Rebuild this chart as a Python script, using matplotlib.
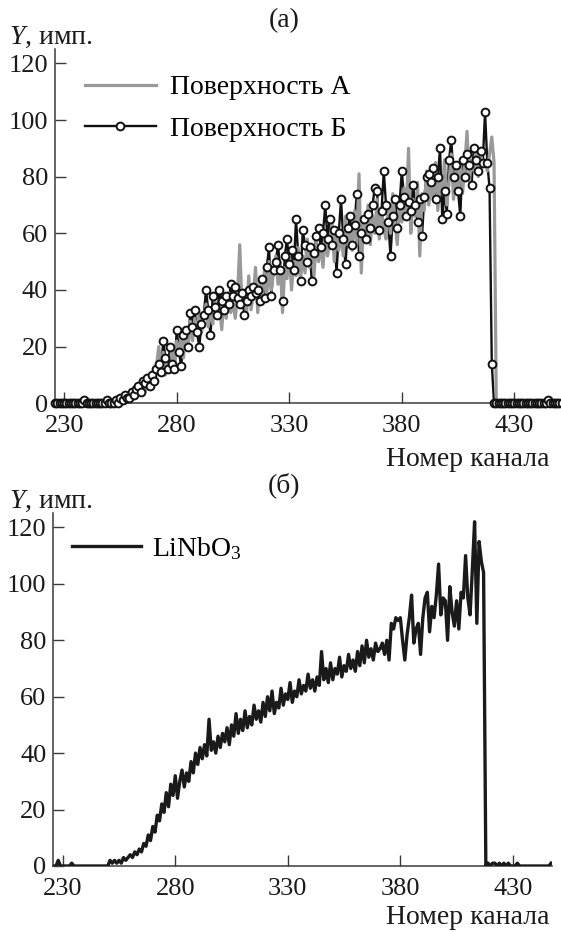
import numpy as np
import matplotlib
matplotlib.use('Agg')
import matplotlib.pyplot as plt

plt.rcParams['font.family'] = ['Liberation Serif', 'DejaVu Serif']
plt.rcParams['mathtext.fontset'] = 'custom'
plt.rcParams['mathtext.rm'] = 'Liberation Serif'
plt.rcParams['mathtext.it'] = 'Liberation Serif:italic'

# ---------------- data ----------------
channels_a = np.arange(226, 452)
surface_A = ([0] * 29 +
             [1, 0, 2, 1, 3, 1, 4, 2, 5, 3, 6, 4, 7, 5] +
             [9, 7, 13, 20, 12, 18, 10, 16, 14, 20, 13, 22, 17, 24, 16, 26, 20, 29, 22, 30,
              24, 32, 25, 30, 35, 27, 33, 28, 36, 30, 34, 26] +
             [37, 30, 39, 32, 36, 30, 38, 56, 34, 40, 31, 45, 33, 38, 48, 32, 44, 36, 47, 38,
              50, 40, 46, 52, 42, 50, 32, 48, 44, 53, 40, 50, 45, 55, 44, 52, 46, 58, 48, 54] +
             [45, 58, 50, 56, 48, 60, 52, 57, 64, 50, 62, 54, 60, 52, 66, 56, 61, 54, 68, 56,
              81, 46, 63, 58, 70, 56, 66, 60, 72, 58, 68, 62, 58, 70, 60, 74, 64, 56, 70, 64] +
             [76, 66, 90, 60, 72, 66, 78, 52, 74, 68, 82, 70, 78, 72, 85, 68, 80, 74, 86, 70,
              78, 88, 72, 82, 76, 86, 74, 84, 96, 78, 86, 82, 90, 80, 88, 84, 86, 82, 88, 94, 85] +
             [0] * 30)
surface_B = ([0] * 13 + [1] + [0] * 9 + [1] + [0] * 3 +
             [1, 0, 2, 1, 3, 2, 2, 4, 3, 5, 6, 4, 8, 7, 9, 6] +
             [10, 8, 12, 14, 11, 22, 16, 12, 20, 14, 12, 26, 18, 13, 24, 26, 20, 32, 27, 33,
              25, 20, 28, 31, 40, 33, 24, 38, 34, 31, 40, 36] +
             [33, 38, 35, 42, 38, 41, 37, 35, 39, 31, 36, 40, 38, 41, 39, 40, 36, 44, 37, 48,
              55, 38, 47, 50, 56, 47, 36, 52, 58, 49, 54, 47, 65, 52, 43, 61, 56, 50, 55, 43] +
             [53, 59, 62, 55, 60, 70, 58, 65, 56, 61, 46, 60, 72, 58, 49, 62, 66, 56, 63, 74,
              52, 60, 65, 58, 67, 62, 70, 76, 75, 61, 68, 82, 70, 64, 52, 66, 72, 62, 70, 82] +
             [73, 66, 71, 68, 77, 70, 64, 72, 59, 73, 80, 81, 78, 83, 72, 80, 90, 65, 75, 67,
              86, 93, 80, 84, 75, 66, 86, 80, 88, 84, 77, 90, 86, 82, 89, 85, 103, 85, 76, 14, 0] +
             [0] * 23 + [1] + [0] * 6)

channels_b = np.arange(226, 448)
linbo3 = ([0, 0, 2, 0, 0, 0, 0, 0, 1, 0] + [0] * 15 +
          [2, 1, 2, 1, 2, 1, 3, 2, 3, 4, 3, 5, 4, 6, 5, 8, 7, 11, 9, 14,
           12, 18, 16, 22, 19, 26, 21, 29, 25, 32, 24, 30, 34, 28, 33, 30, 37, 33, 40, 36,
           42, 38, 43, 39, 52, 41, 44, 40, 46, 42] +
          [47, 44, 49, 43, 50, 46, 54, 47, 52, 48, 55, 49, 53, 50, 57, 52, 55, 51, 58, 53,
           60, 55, 62, 54, 58, 56, 63, 57, 61, 59, 65, 58, 62, 60, 66, 61, 64, 62, 68, 63,
           66, 62, 67, 64, 76, 66, 70, 65, 72, 66] +
          [70, 68, 74, 67, 71, 69, 75, 70, 73, 69, 76, 71, 78, 72, 80, 74, 77, 73, 79, 76,
           77, 79, 75, 80, 73, 86, 84, 88, 87, 88, 80, 73, 82, 88, 96, 79, 84, 86, 75, 88,
           95, 97, 83, 92, 88, 96, 107, 89, 95, 94] +
          [80, 99, 90, 85, 94, 84, 97, 95, 110, 95, 89, 105, 122, 86, 115, 108, 104, 0, 1, 0,
           1, 1, 0, 1, 0, 1, 0, 1, 0, 0, 0, 1, 0, 0, 0, 0, 0, 0, 0, 0,
           0, 0, 0, 0, 0, 0, 1])

xticks = [230, 280, 330, 380, 430]
yticks = [0, 20, 40, 60, 80, 100, 120]
label_A = 'Поверхность А'
label_B = 'Поверхность Б'
label_C = 'LiNbO$_3$'
ylab = '$Y$, имп.'
xlab = 'Номер канала'

# ---------------- figure ----------------
W, H = 561, 932
fig = plt.figure(figsize=(W / 100, H / 100), dpi=100)


def ax_px(l, t, r, b):
    return fig.add_axes([l / W, 1 - b / H, (r - l) / W, (b - t) / H])


SPINE = '#3a3a3a'
FS = 20
TFS = 19


def style(ax, xlim):
    ax.set_xlim(*xlim)
    ax.set_ylim(0, 125)
    for s in ['top', 'right']:
        ax.spines[s].set_visible(False)
    for s in ['left', 'bottom']:
        ax.spines[s].set_color(SPINE)
        ax.spines[s].set_linewidth(1.1)
    ax.set_xticks(xticks)
    ax.set_yticks(yticks)
    ax.tick_params(direction='in', length=8, width=1.0, color=SPINE,
                   labelsize=TFS, labelcolor='#1a1a1a')
    ax.tick_params(axis='x', pad=8.5)
    ax.tick_params(axis='y', pad=5)


# panel (a)
ax1 = ax_px(55, 49.2, 562, 403.3)
style(ax1, (225.9, 451.2))
ax1.plot(channels_a, surface_B, color='#111111', lw=1.7, clip_on=False, zorder=3)
ax1.plot(channels_a, surface_A, color='#999999', lw=2.3, zorder=4,
         clip_on=False, label=label_A)
ax1.plot(channels_a, surface_B, ls='none', marker='o', ms=5.6,
         mfc='white', mec='#111111', mew=1.4, clip_on=False, zorder=5)
hB, = ax1.plot([], [], color='#111111', lw=1.7, marker='o', ms=5.6,
               mfc='white', mec='#111111', mew=1.4, label=label_B)
ax1.legend(loc='upper left',
           bbox_to_anchor=(85 / W, 1 - 75 / H), bbox_transform=fig.transFigure,
           frameon=False, fontsize=FS, handlelength=2.55, handletextpad=0.5,
           borderpad=0, borderaxespad=0, labelspacing=0.58, numpoints=1)

# panel (b)
ax2 = ax_px(53.3, 513.3, 552, 866)
style(ax2, (225.8, 447.4))
ax2.plot(channels_b, linbo3, color='#1a1a1a', lw=2.4, zorder=3, label=label_C)
ax2.legend(loc='upper left', bbox_to_anchor=(72 / W, 1 - 535 / H),
           bbox_transform=fig.transFigure, frameon=False, fontsize=FS,
           handlelength=2.5, handletextpad=0.38, borderpad=0, borderaxespad=0)

# texts
for dy in (0, 464):
    fig.text(9 / W, 1 - (44 + dy) / H, ylab, fontsize=FS, ha='left',
             va='baseline', color='#1a1a1a')
for yc in (460, 918):
    fig.text(549 / W, 1 - yc / H, xlab, fontsize=FS, ha='right',
             va='center', color='#1a1a1a')
fig.text(284 / W, 1 - 21 / H, '(а)', fontsize=FS, ha='center', va='center',
         color='#1a1a1a')
fig.text(284 / W, 1 - 485 / H, '(б)', fontsize=FS, ha='center', va='center',
         color='#1a1a1a')

fig.savefig('out.png', dpi=100)
